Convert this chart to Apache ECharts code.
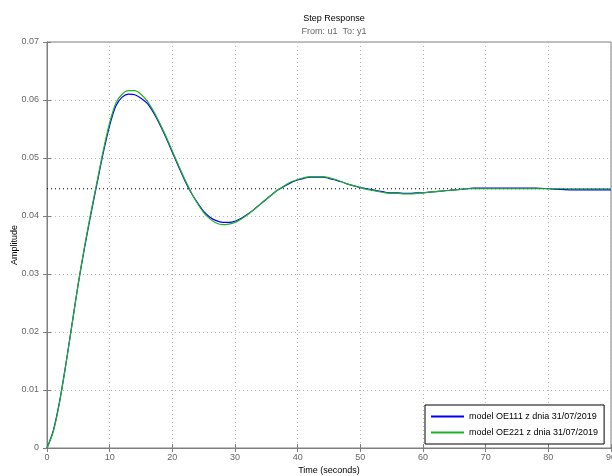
<!DOCTYPE html>
<html>
<head>
<meta charset="utf-8">
<script src="https://cdn.jsdelivr.net/npm/echarts@6/dist/echarts.min.js"></script>
<style>
  html, body { margin: 0; padding: 0; background: #fff; }
  #chart { width: 612px; height: 476px; }
</style>
</head>
<body>
<div id="chart"></div>
<script>
// czas [s]
var timeS = [0, 1, 2, 3, 4, 5, 6, 7, 8, 9, 10, 11, 12, 13, 14, 15, 16, 17, 18, 19,
    20, 21, 22, 23, 24, 25, 26, 27, 28, 29, 30, 31, 32, 33, 34, 35, 36, 37, 38, 39,
    40, 41, 42, 43, 44, 45, 46, 47, 48, 49, 50, 51, 52, 53, 54, 55, 56, 57, 58, 59,
    60, 61, 62, 63, 64, 65, 66, 67, 68, 70, 72, 74, 76, 78, 80, 82, 84, 86, 88, 90];
// model OE111
var oe111 = [0, 0.0030, 0.0080, 0.0144, 0.0214, 0.0284, 0.0346, 0.0403, 0.0457, 0.0510,
    0.0556, 0.0590, 0.0605, 0.0610, 0.0609, 0.0603, 0.0594, 0.0578, 0.0558, 0.0535,
    0.0510, 0.0485, 0.0461, 0.0440, 0.0423, 0.0408, 0.0398, 0.0392, 0.0389, 0.0389,
    0.0391, 0.0396, 0.0403, 0.0411, 0.0420, 0.0429, 0.0438, 0.0446, 0.0452, 0.0458,
    0.0462, 0.0465, 0.0467, 0.0467, 0.0467, 0.0465, 0.0462, 0.0459, 0.0455, 0.0452,
    0.0449, 0.0447, 0.0445, 0.0443, 0.0441, 0.0440, 0.0440, 0.0439, 0.0439, 0.0440,
    0.0440, 0.0441, 0.0442, 0.0443, 0.0444, 0.0445, 0.0446, 0.0447, 0.0448, 0.0448,
    0.0448, 0.0448, 0.0448, 0.0448, 0.0447, 0.0446, 0.0445, 0.0445, 0.0445, 0.0445];
// model OE221
var oe221 = [0, 0.0028, 0.0078, 0.0143, 0.0213, 0.0284, 0.0348, 0.0406, 0.0460, 0.0514,
    0.0561, 0.0595, 0.0610, 0.0616, 0.0616, 0.0610, 0.0598, 0.0581, 0.0560, 0.0537,
    0.0512, 0.0487, 0.0463, 0.0441, 0.0422, 0.0406, 0.0395, 0.0388, 0.0385, 0.0386,
    0.0389, 0.0395, 0.0402, 0.0411, 0.0420, 0.0429, 0.0438, 0.0446, 0.0453, 0.0459,
    0.0463, 0.0466, 0.0468, 0.0468, 0.0468, 0.0466, 0.0463, 0.0459, 0.0455, 0.0452,
    0.0449, 0.0446, 0.0444, 0.0442, 0.0440, 0.0439, 0.0439, 0.0438, 0.0438, 0.0439,
    0.0440, 0.0441, 0.0442, 0.0443, 0.0444, 0.0445, 0.0446, 0.0447, 0.0447, 0.0447,
    0.0447, 0.0447, 0.0447, 0.0447, 0.0447, 0.0447, 0.0447, 0.0447, 0.0447, 0.0447];
// wartosc ustalona
var steadyState = 0.0447;
var seriesNames = ['model OE111 z dnia 31/07/2019', 'model OE221 z dnia 31/07/2019'];

function pairs(vals) {
    return timeS.map(function(t, i) { return [t, vals[i]]; });
}

var font = 'Liberation Sans, Arial, sans-serif';
var axisGray = '#7f7f7f';
var gridLine = { show: true, lineStyle: { color: '#b8b8b8', type: [1, 3], width: 1 } };

var myChart = echarts.init(document.getElementById('chart'));
myChart.setOption({
    animation: false,
    textStyle: { fontFamily: font },
    title: {
        text: 'Step Response',
        subtext: 'From: u1  To: y1',
        left: 329, textAlign: 'center', top: 9, itemGap: 4,
        textStyle: { fontSize: 9, fontWeight: 'normal', color: '#000', fontFamily: font },
        subtextStyle: { fontSize: 9, color: '#666', fontFamily: font }
    },
    legend: {
        orient: 'vertical',
        left: 425, top: 405,
        padding: [7, 6, 7, 6],
        itemGap: 7,
        itemWidth: 33, itemHeight: 2,
        icon: 'rect',
        borderColor: '#000', borderWidth: 1, backgroundColor: '#fff',
        textStyle: { fontSize: 9, color: '#000', fontFamily: font },
        data: seriesNames
    },
    grid: {
        left: 47, right: 1, top: 42, bottom: 28,
        outerBoundsMode: 'none', containLabel: false,
        show: true, borderColor: axisGray, borderWidth: 1
    },
    xAxis: [{
        type: 'value', min: 0, max: 90, interval: 10,
        name: 'Time (seconds)', nameLocation: 'middle', nameGap: 18,
        nameMoveOverlap: false,
        nameTextStyle: { fontSize: 9, color: '#000' },
        axisLine: { show: true, lineStyle: { color: axisGray } },
        axisTick: { show: true, inside: true, length: 4, lineStyle: { color: axisGray } },
        axisLabel: { fontSize: 9, color: '#666', margin: 5 },
        splitLine: gridLine
    }, {
        type: 'value', min: 0, max: 90, interval: 10, position: 'top',
        axisLine: { show: true, lineStyle: { color: axisGray } },
        axisTick: { show: true, inside: true, length: 4, lineStyle: { color: axisGray } },
        axisLabel: { show: false }, splitLine: { show: false }
    }],
    yAxis: [{
        type: 'value', min: 0, max: 0.07, interval: 0.01,
        name: 'Amplitude', nameLocation: 'middle', nameGap: 28, nameRotate: 90,
        nameMoveOverlap: false,
        nameTextStyle: { fontSize: 9, color: '#000' },
        axisLine: { show: true, lineStyle: { color: axisGray } },
        axisTick: { show: true, inside: true, length: 4, lineStyle: { color: axisGray } },
        axisLabel: { fontSize: 9, color: '#666', margin: 8,
            formatter: function(v) { return v === 0 ? '0' : v.toFixed(2); } },
        splitLine: gridLine
    }, {
        type: 'value', min: 0, max: 0.07, interval: 0.01, position: 'right',
        axisLine: { show: true, lineStyle: { color: axisGray } },
        axisTick: { show: true, inside: true, length: 4, lineStyle: { color: axisGray } },
        axisLabel: { show: false }, splitLine: { show: false }
    }],
    series: [{
        name: 'steady',
        type: 'line',
        silent: true,
        data: [[timeS[0], steadyState], [timeS[timeS.length - 1], steadyState]],
        showSymbol: false,
        lineStyle: { color: '#000', type: [1, 3], width: 1 }
    }, {
        name: seriesNames[0],
        type: 'line',
        data: pairs(oe111),
        showSymbol: false, smooth: 0.3,
        lineStyle: { color: '#0000ff', width: 1.2 },
        itemStyle: { color: '#0000ff' }
    }, {
        name: seriesNames[1],
        type: 'line',
        data: pairs(oe221),
        showSymbol: false, smooth: 0.3,
        lineStyle: { color: '#1fb41f', width: 1.2 },
        itemStyle: { color: '#1fb41f' }
    }]
});
</script>
</body>
</html>
